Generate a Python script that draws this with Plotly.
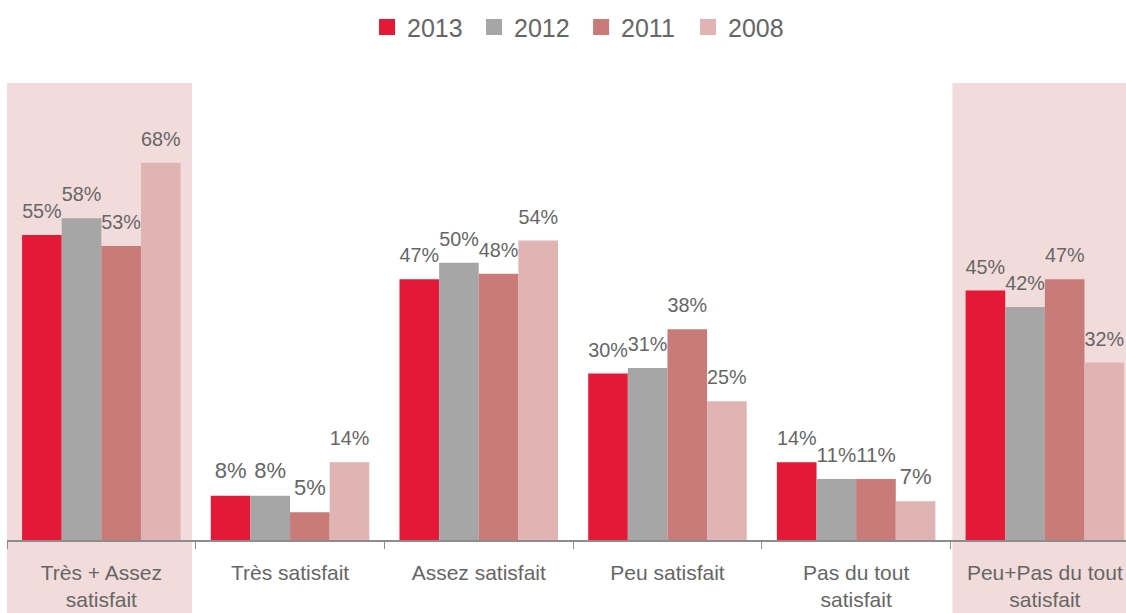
import plotly.graph_objects as go

categories = ["Très + Assez<br>satisfait", "Très satisfait", "Assez satisfait",
              "Peu satisfait", "Pas du tout<br>satisfait", "Peu+Pas du tout<br>satisfait"]
series_names = ["2013", "2012", "2011", "2008"]
v2013 = [55, 8, 47, 30, 14, 45]
v2012 = [58, 8, 50, 31, 11, 42]
v2011 = [53, 5, 48, 38, 11, 47]
v2008 = [68, 14, 54, 25, 7, 32]
colors = ["#E31937", "#A6A6A6", "#C97B7A", "#DFB4B3"]

FONT = "Liberation Sans, Arial, sans-serif"
TXT = "#666666"
YMAX = 82.4
LIFT = 1.7  # label lift in data units (label padding above bars)

fig = go.Figure()
for name, vals, col in zip(series_names, [v2013, v2012, v2011, v2008], colors):
    fig.add_trace(go.Bar(
        x=categories, y=vals, name=name, showlegend=False,
        marker=dict(color=col, line=dict(width=0)), hoverinfo="x+y",
    ))
for name, vals, col in zip(series_names, [v2013, v2012, v2011, v2008], colors):
    # invisible twin bars on overlay axis, carrying the value labels slightly higher
    fig.add_trace(go.Bar(
        x=categories, y=vals, name=name, showlegend=False, xaxis="x2", yaxis="y2",
        marker=dict(color="rgba(0,0,0,0)", line=dict(width=0)), hoverinfo="skip",
        text=[f"{v}%" for v in vals], textposition="outside",
        textfont=dict(family=FONT, size=22, color=TXT), cliponaxis=False,
    ))
for name, col in zip(series_names, colors):
    fig.add_trace(go.Scatter(
        x=[None], y=[None], mode="markers", name=name,
        marker=dict(symbol="square", size=17, color=col), showlegend=True,
    ))

for x0, x1 in [(-0.5, 0.48), (4.51, 5.6)]:
    fig.add_shape(type="rect", xref="x", yref="paper", x0=x0, x1=x1,
                  y0=-80/457, y1=1, fillcolor="#F2DCDB", line=dict(width=0), layer="below")

XR = [-0.5, 5.43]
fig.update_layout(
    width=1126, height=613,
    margin=dict(l=7, r=0, t=83, b=73),
    paper_bgcolor="white", plot_bgcolor="rgba(0,0,0,0)",
    barmode="group", bargap=0.16, bargroupgap=0,
    font=dict(family=FONT, color=TXT),
    showlegend=True,
    legend=dict(orientation="h", x=0.513, xanchor="center", y=0.993, yanchor="top",
                yref="container", font=dict(family=FONT, size=25, color=TXT),
                itemwidth=30, traceorder="normal", entrywidth=62),
    xaxis=dict(type="category", categoryorder="array", categoryarray=categories,
               range=XR, showline=True, linecolor="#8C8C8C", linewidth=1.5,
               ticks="outside", tickson="boundaries", ticklen=7, tickcolor="#8C8C8C",
               tickfont=dict(family=FONT, size=21, color=TXT), showgrid=False, zeroline=False,
               ticklabelstandoff=13),
    yaxis=dict(range=[0, YMAX], visible=False, showgrid=False),
    xaxis2=dict(type="category", categoryorder="array", categoryarray=categories,
                range=XR, overlaying="x", visible=False),
    yaxis2=dict(range=[-LIFT, YMAX - LIFT], overlaying="y", visible=False),
)
fig.write_html("out.html", post_script="document.body.style.margin='0';",
               config={"displayModeBar": False})
